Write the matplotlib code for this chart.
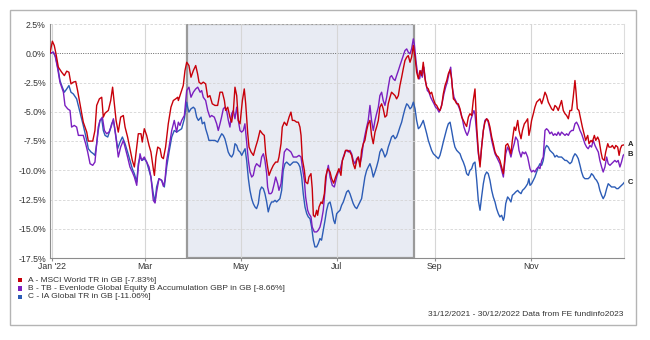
import matplotlib
matplotlib.use("Agg")
import matplotlib.pyplot as plt
import matplotlib.dates as mdates
from matplotlib.patches import Rectangle
import datetime as dt

plt.rcParams['font.family'] = ['Liberation Sans', 'DejaVu Sans']

# ---------------- data (days after 31/12/2021, cumulative % return) ----------------
start_date = "2021-12-31"
end_day = 364
shade_start_day = 87
shade_end_day = 231

A_days = [0, 1.5, 2.7, 3.8, 5.3, 7.4, 9.1, 10.6, 12.0, 13.3, 14.8, 16.3, 17.5, 19.0, 21.1, 23.3, 24.3, 27.1, 28.5, 29.6,
          31.3, 32.8, 33.8, 34.9, 37.0, 38.5, 39.7, 40.8, 41.9, 43.3, 44.8, 46.5, 47.6, 49.2, 50.7, 52.2, 53.5, 55.0, 56.0,
          57.7, 58.5, 59.8, 61.3, 62.8, 64.0, 65.5, 66.2, 67.2, 68.3, 69.8, 70.8, 71.9, 73.3, 75.0, 76.7, 78.2, 79.7, 81.0,
          81.4, 83.1, 84.5, 85.6, 86.7, 88.1, 89.4, 90.9, 92.4, 93.6, 94.5, 95.8, 97.2, 98.7, 100.0, 101.4, 102.9, 104.6,
          106.3, 107.8, 109.3, 110.6, 111.4, 112.7, 114.1, 115.2, 116.3, 117.3, 118.4, 119.4, 120.5, 122.0, 123.2, 124.1,
          125.4, 126.2, 127.5, 129.0, 130.4, 131.7, 133.2, 134.7, 135.9, 136.8, 138.0, 138.9, 140.1, 141.6, 143.1, 144.4,
          145.2, 146.5, 147.3, 148.6, 150.1, 151.6, 152.8, 153.7, 154.9, 156.4, 157.5, 158.5, 159.2, 160.0, 161.3, 162.1,
          163.4, 164.2, 165.5, 166.3, 167.0, 168.0, 169.1, 169.7, 170.6, 171.9, 172.7, 174.0, 174.8, 176.1, 177.6, 178.6,
          179.9, 181.1, 182.4, 183.2, 184.5, 185.4, 186.6, 187.4, 188.8, 190.2, 191.3, 192.3, 193.4, 194.5, 195.5, 196.6,
          197.6, 198.7, 199.7, 200.8, 201.8, 202.9, 203.9, 205.0, 206.1, 207.1, 208.2, 209.2, 210.3, 211.3, 212.4, 213.5,
          214.5, 215.6, 216.6, 217.7, 218.8, 219.8, 220.9, 221.9, 223.0, 224.0, 225.1, 226.2, 227.2, 228.3, 229.3, 230.4,
          231.5, 232.5, 233.6, 234.6, 235.7, 236.7, 237.8, 238.9, 239.9, 241.0, 242.0, 243.1, 244.2, 245.2, 246.3, 247.3,
          248.4, 249.4, 250.5, 251.6, 252.6, 253.7, 254.7, 255.8, 256.8, 257.9, 258.9, 260.0, 261.1, 262.1, 263.2, 264.2,
          265.3, 266.3, 267.4, 268.4, 269.5, 270.6, 271.6, 272.7, 273.7, 274.8, 275.8, 276.9, 277.9, 279.0, 280.1, 281.1,
          282.2, 283.2, 284.3, 285.3, 286.4, 287.5, 288.1, 289.0, 290.2, 291.1, 292.3, 293.2, 294.4, 295.3, 296.6, 297.4,
          298.7, 299.6, 300.8, 301.6, 302.9, 303.7, 304.4, 305.4, 306.5, 307.5, 308.6, 309.7, 310.7, 311.8, 312.8, 313.9,
          314.9, 316.0, 317.0, 318.1, 319.2, 320.2, 321.3, 322.3, 323.4, 324.4, 325.5, 326.6, 327.6, 328.7, 329.7, 330.8,
          331.8, 332.9, 333.5, 334.4, 335.4, 336.7, 337.6, 338.9, 339.7, 341.0, 341.8, 343.1, 343.9, 345.2, 346.1, 347.3,
          348.2, 349.4, 350.3, 351.5, 352.4, 353.7, 354.5, 355.8, 356.6, 357.9, 358.8, 360.0, 360.9, 361.7, 362.6, 364.0]
A_vals = [0, 1.03, 0.66, -0.05, -1.19, -1.62, -1.91, -1.53, -1.62, -2.62, -2.47, -2.41, -3.19, -4.32, -5.89, -6.74, -7.51,
          -7.51, -6.60, -4.46, -3.90, -3.76, -5.46, -5.12, -4.89, -4.04, -2.90, -4.32, -5.74, -6.74, -5.46, -5.32, -6.31,
          -7.16, -8.16, -9.16, -9.72, -8.02, -6.88, -6.88, -7.59, -6.45, -7.02, -7.88, -8.44, -9.87, -10.44, -8.87, -8.02,
          -8.16, -8.87, -9.01, -8.02, -6.03, -4.61, -4.04, -3.90, -3.76, -4.04, -3.33, -2.76, -1.48, -0.77, -1.05, -2.05,
          -1.48, -1.05, -1.76, -2.47, -2.62, -2.47, -2.62, -3.76, -3.62, -4.32, -4.46, -4.46, -3.33, -3.33, -4.04, -4.89,
          -4.61, -5.46, -5.89, -4.89, -2.90, -3.62, -5.74, -6.03, -4.04, -3.05, -4.32, -6.88, -8.02, -8.44, -8.73, -8.02,
          -7.45, -6.60, -6.88, -7.02, -8.59, -9.72, -10.44, -10.01, -9.58, -9.30, -9.30, -8.87, -7.73, -6.31, -5.89, -6.17,
          -5.46, -5.03, -5.74, -5.74, -5.89, -5.89, -6.31, -7.02, -9.01, -10.01, -11.00, -11.15, -10.58, -10.29, -11.57,
          -13.85, -13.99, -13.42, -13.85, -13.14, -12.71, -12.85, -12.00, -10.58, -9.87, -10.15, -10.72, -11.10, -10.58,
          -10.15, -9.87, -10.44, -9.16, -8.73, -8.30, -8.30, -8.44, -8.73, -9.44, -9.87, -9.16, -8.87, -9.72, -8.30, -7.73,
          -7.45, -6.60, -6.03, -5.74, -7.02, -7.73, -6.74, -6.31, -5.74, -4.61, -4.32, -4.75, -5.46, -5.32, -4.32, -3.76,
          -3.33, -3.48, -3.62, -3.90, -3.62, -2.76, -2.05, -1.34, -0.62, -0.34, -0.20, -0.77, -0.34, 0.66, -0.34, -1.62,
          -2.19, -1.48, -1.91, -0.77, -2.19, -2.90, -3.05, -3.48, -3.33, -3.90, -4.32, -4.46, -4.75, -4.89, -4.46, -3.48,
          -2.76, -2.33, -1.76, -1.42, -2.19, -3.90, -4.04, -4.32, -4.32, -4.75, -5.46, -5.74, -6.03, -6.26, -5.46, -5.17,
          -5.32, -4.04, -3.05, -6.31, -8.30, -9.72, -8.02, -6.60, -5.89, -5.60, -5.74, -6.31, -7.16, -7.73, -8.44, -8.73,
          -8.87, -9.16, -9.72, -10.29, -9.44, -7.88, -7.73, -8.02, -8.59, -7.45, -6.31, -6.60, -5.74, -6.60, -7.31, -6.60,
          -6.03, -5.89, -5.60, -7.02, -6.60, -5.74, -5.17, -4.61, -4.18, -4.04, -3.90, -4.32, -3.90, -3.33, -3.62, -4.18,
          -4.46, -4.75, -4.89, -4.46, -4.61, -4.89, -4.46, -4.04, -4.89, -5.17, -5.32, -5.60, -4.89, -4.89, -3.76, -2.33,
          -3.19, -4.75, -4.89, -5.74, -6.31, -7.02, -7.45, -7.02, -7.73, -7.45, -7.59, -7.02, -7.45, -7.16, -7.45, -8.44,
          -9.01, -9.16, -8.44, -7.73, -8.02, -8.02, -7.88, -8.16, -7.88, -8.02, -8.73, -8.16, -7.88, -7.83]

B_days = [0, 2.1, 3.2, 4.9, 6.3, 8.5, 9.5, 11.2, 12.7, 13.7, 15.4, 16.9, 18.0, 19.7, 21.1, 22.6, 23.9, 25.4, 27.1, 28.5,
          29.6, 30.6, 31.7, 33.2, 34.5, 35.9, 37.4, 38.7, 40.2, 41.2, 42.3, 43.3, 44.8, 46.5, 47.6, 49.2, 50.7, 52.2, 53.5,
          55.0, 56.0, 57.1, 58.1, 59.8, 61.3, 62.8, 64.0, 65.5, 66.6, 67.6, 69.1, 70.8, 71.9, 72.9, 74.0, 75.5, 77.2, 78.8,
          80.3, 81.4, 82.4, 83.5, 85.2, 86.7, 88.1, 89.4, 90.9, 92.4, 93.7, 95.2, 96.2, 97.2, 98.7, 100.0, 101.4, 102.5,
          104.2, 105.7, 106.7, 107.8, 108.8, 109.9, 110.9, 112.0, 113.1, 114.1, 115.2, 116.3, 117.3, 118.4, 119.4, 120.5,
          121.5, 122.6, 123.6, 124.7, 125.8, 126.8, 127.9, 128.9, 130.0, 131.0, 132.1, 133.2, 134.2, 135.3, 136.3, 137.4,
          138.0, 138.9, 140.1, 140.9, 142.2, 143.1, 144.4, 145.2, 146.5, 147.3, 148.6, 150.1, 151.6, 152.8, 154.3, 156.4,
          157.9, 159.2, 160.0, 161.3, 162.1, 163.4, 164.2, 165.5, 166.3, 167.6, 169.1, 170.1, 171.2, 172.2, 173.3, 174.4,
          175.4, 176.5, 177.6, 179.0, 180.3, 181.8, 182.8, 183.9, 184.9, 186.0, 187.1, 188.1, 189.2, 190.2, 191.3, 192.3,
          193.4, 194.5, 195.5, 196.6, 197.6, 198.7, 199.7, 200.8, 201.8, 202.9, 203.9, 205.0, 206.1, 207.1, 208.2, 209.2,
          210.3, 211.3, 212.4, 213.5, 214.5, 215.6, 216.6, 217.7, 218.8, 219.8, 220.9, 221.9, 223.0, 224.0, 225.1, 226.2,
          227.2, 228.3, 229.3, 230.4, 231.0, 232.3, 233.3, 234.4, 235.3, 236.1, 237.1, 238.2, 239.3, 240.3, 241.4, 242.4,
          243.5, 244.5, 245.6, 246.7, 247.7, 248.8, 249.8, 250.9, 251.9, 253.0, 254.1, 255.1, 256.2, 257.2, 258.3, 259.3,
          260.4, 261.5, 262.5, 263.6, 264.6, 265.7, 266.7, 267.8, 268.8, 269.5, 270.6, 271.6, 272.7, 273.7, 274.8, 275.8,
          276.9, 277.9, 279.0, 280.1, 281.1, 282.2, 283.2, 284.3, 285.3, 286.4, 287.5, 288.1, 289.0, 290.2, 291.1, 292.3,
          293.2, 294.4, 295.3, 296.6, 297.4, 298.7, 299.6, 300.8, 301.6, 302.9, 304.4, 305.4, 306.5, 307.5, 308.6, 309.7,
          310.7, 311.8, 312.8, 313.9, 314.9, 316.0, 317.0, 318.1, 319.2, 320.2, 321.3, 322.3, 323.4, 324.4, 325.5, 326.6,
          327.6, 328.7, 329.7, 330.8, 331.8, 332.9, 333.9, 335.0, 336.1, 337.1, 338.2, 339.2, 340.3, 341.3, 342.4, 343.4,
          344.5, 345.6, 346.6, 347.7, 348.7, 349.8, 350.8, 351.9, 353.0, 354.0, 355.1, 356.1, 357.2, 358.2, 359.3, 360.3,
          361.4, 362.4, 363.5, 364.0]
B_vals = [0, 0.09, -0.20, -1.34, -2.47, -3.33, -4.46, -4.75, -4.89, -6.31, -6.17, -6.31, -7.02, -7.02, -7.02, -7.73, -8.44,
          -9.44, -9.58, -9.30, -7.73, -6.31, -5.74, -5.46, -6.60, -6.88, -6.74, -6.31, -5.60, -6.60, -7.73, -8.87, -8.02,
          -7.45, -8.02, -8.87, -9.72, -10.15, -10.58, -11.29, -9.72, -8.59, -9.16, -8.87, -9.30, -9.72, -10.58, -12.57,
          -12.80, -11.86, -10.72, -10.86, -11.37, -10.86, -9.16, -8.02, -6.60, -5.74, -6.74, -5.89, -6.17, -5.74, -5.32,
          -3.19, -2.90, -3.76, -3.33, -3.05, -2.90, -3.33, -3.19, -3.76, -4.04, -4.89, -5.46, -5.32, -5.46, -6.03, -6.60,
          -6.03, -5.46, -4.75, -4.61, -4.89, -5.74, -6.31, -5.17, -4.89, -5.60, -4.61, -5.74, -6.60, -6.74, -6.60, -6.03,
          -7.59, -9.16, -10.15, -10.58, -10.44, -9.72, -9.44, -9.58, -9.72, -8.87, -8.59, -9.16, -10.29, -11.43, -12.00,
          -12.00, -11.86, -11.15, -10.58, -11.15, -11.72, -11.15, -10.15, -8.44, -8.16, -8.30, -8.44, -8.87, -8.87, -8.73,
          -8.87, -9.72, -10.86, -12.28, -13.42, -13.71, -13.99, -14.85, -15.27, -15.27, -15.13, -14.85, -14.28, -13.42,
          -11.72, -10.29, -9.58, -10.58, -11.29, -11.43, -10.58, -10.15, -10.01, -9.44, -8.87, -8.44, -8.30, -8.44, -8.30,
          -8.59, -9.16, -9.44, -9.01, -8.87, -9.44, -8.87, -7.73, -7.02, -6.31, -5.74, -4.46, -5.74, -6.60, -5.74, -5.17,
          -4.61, -3.62, -3.33, -4.04, -4.46, -3.76, -2.90, -2.05, -1.91, -2.19, -2.33, -1.91, -1.48, -1.05, -0.62, -0.20,
          0.23, 0.37, 0.09, -0.05, 0.37, 1.23, 0.80, -0.91, -1.91, -2.19, -1.48, -2.05, -1.19, -2.47, -3.19, -3.33, -3.76,
          -4.04, -4.32, -4.61, -4.75, -5.03, -4.75, -4.18, -3.48, -2.90, -2.47, -1.76, -1.19, -2.90, -3.76, -4.04, -4.32,
          -4.61, -5.03, -5.60, -6.31, -6.74, -7.02, -6.60, -5.74, -5.30, -4.90, -5.20, -6.88, -8.59, -9.44, -8.02, -6.60,
          -5.74, -5.60, -5.89, -6.60, -7.45, -8.02, -8.59, -8.87, -9.16, -9.44, -10.01, -10.58, -9.72, -8.59, -8.02, -8.30,
          -8.87, -8.30, -7.73, -7.16, -7.45, -8.30, -8.87, -8.44, -8.59, -8.44, -8.87, -9.87, -10.15, -10.01, -10.15,
          -9.87, -9.72, -9.87, -9.16, -8.87, -6.60, -6.45, -6.60, -6.88, -6.74, -7.02, -6.88, -7.02, -6.74, -7.02, -6.74,
          -6.88, -7.02, -6.88, -7.02, -6.74, -6.60, -6.60, -6.03, -5.89, -6.17, -6.60, -6.88, -7.31, -7.73, -8.02, -8.16,
          -7.88, -8.02, -7.45, -7.88, -8.16, -8.44, -9.16, -9.72, -10.15, -9.72, -8.87, -9.44, -9.58, -9.44, -9.30, -9.16,
          -9.30, -9.16, -9.72, -9.30, -8.73, -8.66]

C_days = [0, 2.1, 3.6, 5.3, 6.3, 7.8, 9.1, 10.6, 12.0, 13.3, 14.8, 16.9, 19.0, 21.1, 23.3, 24.3, 26.0, 27.5, 28.5, 29.6,
          30.6, 31.7, 32.8, 33.8, 34.9, 36.6, 38.0, 39.1, 40.2, 41.6, 42.9, 44.4, 45.9, 47.6, 49.2, 50.7, 52.2, 53.5, 55.0,
          56.0, 57.1, 58.5, 59.8, 61.3, 62.8, 64.0, 65.5, 66.6, 67.6, 69.1, 70.8, 72.5, 74.0, 75.5, 77.2, 78.8, 80.3, 81.8,
          83.5, 85.2, 86.7, 87.3, 88.1, 89.4, 90.9, 91.9, 93.0, 94.1, 95.8, 96.6, 97.9, 98.7, 100.0, 100.8, 102.5, 104.6,
          106.3, 107.8, 108.9, 109.9, 110.9, 112.0, 113.0, 114.1, 115.2, 116.3, 117.3, 118.4, 119.4, 120.5, 121.6, 122.6,
          123.7, 124.7, 125.8, 126.8, 127.9, 128.9, 130.0, 131.0, 132.1, 133.2, 134.2, 135.3, 136.3, 137.4, 138.4, 139.5,
          140.5, 141.6, 142.7, 143.7, 144.8, 145.8, 146.9, 147.9, 149.0, 150.1, 151.1, 152.2, 153.2, 154.3, 155.4, 156.4,
          157.5, 158.5, 159.6, 160.6, 161.7, 162.8, 163.8, 164.9, 165.9, 167.0, 168.0, 169.1, 170.1, 171.2, 172.2, 173.3,
          174.4, 175.4, 176.5, 177.6, 178.6, 179.9, 180.7, 181.8, 182.8, 183.9, 184.9, 186.0, 187.1, 188.1, 189.2, 190.2,
          191.3, 192.3, 193.4, 194.5, 195.5, 196.6, 197.6, 198.7, 199.7, 200.8, 201.8, 202.9, 203.9, 205.0, 206.1, 207.1,
          208.2, 209.2, 210.3, 211.3, 212.4, 213.5, 214.5, 215.6, 216.6, 217.7, 218.8, 219.8, 220.9, 221.9, 223.0, 224.0,
          225.1, 226.2, 227.2, 228.3, 229.3, 230.4, 231.5, 232.5, 233.6, 234.6, 235.7, 236.7, 237.8, 238.9, 239.9, 241.0,
          242.0, 243.1, 244.2, 245.2, 246.3, 247.3, 248.4, 249.4, 250.5, 251.6, 252.6, 253.7, 254.7, 255.8, 256.8, 257.9,
          258.9, 260.0, 261.1, 262.1, 263.2, 264.2, 265.3, 266.3, 267.4, 268.4, 269.5, 270.6, 271.6, 272.7, 273.7, 274.8,
          275.8, 276.9, 277.9, 279.0, 280.1, 281.1, 282.2, 283.2, 284.3, 285.3, 286.4, 287.5, 288.1, 289.0, 290.2, 291.1,
          292.3, 293.2, 294.4, 295.3, 296.6, 297.4, 298.7, 299.6, 300.8, 301.6, 302.9, 303.7, 304.4, 305.4, 306.5, 307.5,
          308.6, 309.7, 310.7, 311.8, 312.8, 313.9, 314.9, 316.0, 317.0, 318.1, 319.2, 320.2, 321.3, 322.3, 323.4, 324.4,
          325.5, 326.6, 327.6, 328.7, 329.7, 330.8, 331.8, 332.9, 333.9, 335.0, 336.1, 337.1, 338.2, 339.2, 340.3, 341.3,
          342.4, 343.4, 344.5, 345.6, 346.6, 347.7, 348.7, 349.8, 350.8, 351.9, 353.0, 354.0, 355.1, 356.1, 357.2, 358.2,
          359.3, 360.3, 361.4, 362.4, 363.5, 364.0]
C_vals = [0, 0.09, -0.34, -1.48, -2.33, -2.90, -3.33, -3.05, -2.76, -3.33, -3.48, -3.90, -5.03, -6.17, -7.45, -8.16, -8.44,
          -8.59, -8.73, -7.73, -6.60, -5.74, -5.60, -6.60, -7.02, -7.16, -6.60, -6.03, -5.74, -6.88, -8.16, -7.59, -7.16,
          -7.73, -8.44, -9.16, -9.87, -10.29, -11.00, -9.44, -8.87, -9.16, -9.01, -9.30, -10.01, -10.58, -12.00, -12.71,
          -11.43, -10.72, -10.86, -11.43, -9.72, -8.44, -7.16, -6.60, -6.74, -6.60, -6.45, -5.60, -4.18, -4.61, -5.03,
          -4.75, -4.61, -4.75, -5.46, -5.74, -5.46, -6.03, -5.89, -6.45, -7.02, -7.45, -7.45, -7.45, -7.59, -7.16, -6.88,
          -7.02, -7.31, -7.88, -8.44, -8.73, -8.87, -8.59, -7.73, -7.88, -8.30, -8.44, -8.73, -8.44, -8.16, -9.16, -10.72,
          -11.72, -12.43, -12.85, -13.14, -13.28, -12.85, -11.72, -11.43, -11.57, -12.00, -12.71, -13.56, -13.00, -12.71,
          -12.71, -12.57, -12.71, -12.57, -12.43, -11.72, -10.01, -9.44, -9.30, -9.44, -9.58, -9.44, -9.30, -9.30, -9.30,
          -9.44, -9.72, -10.58, -12.00, -13.14, -13.71, -13.99, -14.14, -14.85, -15.98, -16.55, -16.55, -16.27, -15.84,
          -15.98, -15.13, -14.28, -13.42, -12.85, -12.71, -13.28, -14.28, -14.56, -13.71, -13.56, -13.42, -13.00, -12.71,
          -12.28, -11.86, -11.72, -12.00, -12.43, -12.85, -13.14, -13.28, -13.00, -12.71, -12.43, -11.43, -10.58, -10.01,
          -9.72, -9.44, -9.87, -10.58, -10.15, -9.72, -9.16, -8.44, -8.16, -8.44, -8.87, -8.59, -8.02, -7.59, -7.16, -7.02,
          -7.31, -7.16, -6.74, -6.31, -5.89, -5.32, -4.75, -4.32, -4.46, -4.75, -4.61, -4.18, -4.75, -5.74, -6.45, -6.31,
          -6.03, -5.74, -6.31, -6.88, -7.45, -7.88, -8.30, -8.59, -8.73, -8.87, -9.01, -8.73, -8.16, -7.59, -7.02, -6.45,
          -6.03, -5.89, -6.60, -7.45, -8.02, -8.30, -8.44, -8.59, -9.01, -9.30, -9.72, -10.29, -10.44, -10.01, -9.87, -9.44,
          -9.30, -10.86, -12.57, -13.42, -12.28, -11.15, -10.44, -10.15, -10.29, -10.86, -11.72, -12.28, -12.71, -13.28,
          -13.71, -13.99, -13.85, -14.28, -13.99, -12.85, -12.28, -12.43, -12.71, -12.14, -12.00, -11.86, -11.72, -11.86,
          -12.00, -11.72, -11.57, -11.43, -11.15, -10.72, -11.29, -11.15, -10.86, -10.58, -10.15, -9.72, -9.44, -9.58,
          -9.16, -8.16, -7.88, -8.02, -8.30, -8.44, -8.59, -8.87, -8.73, -8.87, -8.87, -8.87, -9.01, -9.16, -9.16, -9.30,
          -9.44, -9.30, -8.87, -8.59, -8.73, -9.01, -9.58, -10.15, -10.58, -10.72, -10.72, -10.72, -10.58, -10.29, -10.44,
          -10.72, -10.86, -11.15, -11.72, -12.14, -12.43, -12.14, -11.57, -11.15, -11.29, -11.43, -11.43, -11.43, -11.57,
          -11.57, -11.43, -11.29, -11.15, -11.06]

series_names = ["A - MSCI World TR in GB [-7.83%]",
                "B - TB - Evenlode Global Equity B Accumulation GBP in GB [-8.66%]",
                "C - IA Global TR in GB [-11.06%]"]
end_labels = ["A", "B", "C"]
colors = ["#c8000a", "#7b1fc0", "#2c5cb6"]

y_ticks = [2.5, 0.0, -2.5, -5.0, -7.5, -10.0, -12.5, -15.0, -17.5]
x_tick_dates = ["2022-01-01", "2022-03-01", "2022-05-01", "2022-07-01", "2022-09-01", "2022-11-01"]
x_tick_labels = ["Jan '22", "Mar", "May", "Jul", "Sep", "Nov"]
footer = "31/12/2021 - 30/12/2022 Data from FE fundinfo2023"

# ---------------- drawing ----------------
W, H = 650, 340
fig = plt.figure(figsize=(W / 100, H / 100), dpi=100)
fig.patch.set_facecolor("white")

# outer frame
fig.patches.append(Rectangle((10 / W, 1 - 325 / H), 626 / W, 315 / H, transform=fig.transFigure,
                             fill=False, edgecolor="#b4b4b4", lw=1.0))

ax = fig.add_axes([50 / W, 1 - 258 / H, 574 / W, 234 / H])
base = mdates.date2num(dt.datetime.fromisoformat(start_date))


def to_x(days):
    return [base + d for d in days]


ax.set_xlim(base, base + end_day)
ax.set_ylim(-17.5, 2.5)

# shaded period
ax.axvspan(base + shade_start_day, base + shade_end_day, facecolor="#e8ebf3", edgecolor="#9a9a9a",
           lw=1.6, zorder=0.5)

# grid
ax.set_yticks(y_ticks)
ax.set_yticklabels([f"{v:.1f}%" for v in y_ticks])
xt = [mdates.date2num(dt.datetime.fromisoformat(d)) for d in x_tick_dates]
ax.set_xticks(xt)
ax.set_xticklabels(x_tick_labels)
for v in y_ticks:
    if v == 0:
        ax.axhline(0, color="#666666", lw=0.7, dashes=(1, 1.4), zorder=1)
    elif v > -17.5:
        ax.axhline(v, color="#d4d4d4", lw=0.6, dashes=(3, 2), zorder=1)
for x in xt:
    ax.axvline(x, color="#d6d6d6", lw=0.8, zorder=1)

for days, vals, c in [(C_days, C_vals, colors[2]), (B_days, B_vals, colors[1]), (A_days, A_vals, colors[0])]:
    ax.plot(to_x(days), vals, color=c, lw=1.0, zorder=3, solid_joinstyle="round")

# end labels
for days, vals, lab in [(A_days, A_vals, "A"), (B_days, B_vals, "B"), (C_days, C_vals, "C")]:
    ax.annotate(lab, (base + days[-1], vals[-1]), xytext=(2.5, 0), textcoords="offset points",
                fontsize=5.5, fontweight="bold", color="#222222", va="center", ha="left",
                annotation_clip=False)

for s in ["top"]:
    ax.spines[s].set_visible(False)
ax.spines["right"].set_color("#dddddd")
ax.spines["left"].set_color("#8c8c8c")
ax.spines["bottom"].set_color("#8c8c8c")
ax.tick_params(axis="y", length=0, pad=3, labelsize=6.3, labelcolor="#333333")
ax.tick_params(axis="x", length=2, pad=1, labelsize=6.3, labelcolor="#333333", color="#8c8c8c")

# legend
for i, (name, c) in enumerate(zip(series_names, colors)):
    yc = 280.2 + i * 8.3
    fig.patches.append(Rectangle((18 / W, 1 - (yc + 2.2) / H), 4.4 / W, 4.4 / H, transform=fig.transFigure,
                                 facecolor=c, edgecolor="none"))
    fig.text(28 / W, 1 - yc / H, name, fontsize=6, color="#333333", va="center", ha="left")

fig.text(623 / W, 1 - 315 / H, footer, fontsize=6, color="#333333", va="center", ha="right")

fig.savefig("out.png", dpi=100, facecolor="white")
